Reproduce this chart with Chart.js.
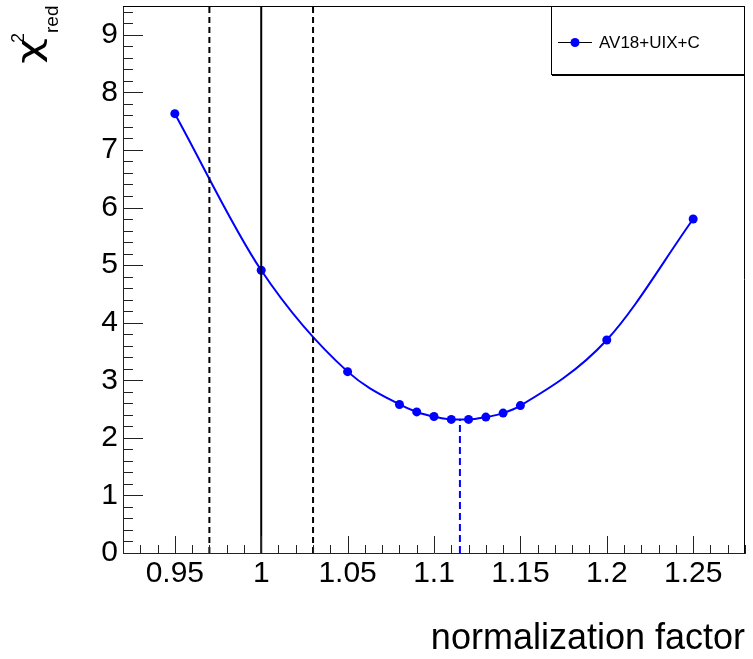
<!DOCTYPE html>
<html>
<head>
<meta charset="utf-8">
<script src="https://cdn.jsdelivr.net/npm/chart.js@4.4.0/dist/chart.umd.min.js"></script>
<style>
  body { margin: 0; background: #fff; }
  #wrap { width: 753px; height: 659px; position: relative; }
</style>
</head>
<body>
<div id="wrap"><canvas id="chi2Chart"></canvas></div>
<script>
// values
const normFactor = [0.95, 1.00, 1.05, 1.08, 1.09, 1.10, 1.11, 1.12, 1.13, 1.14, 1.15, 1.20, 1.25];
const chi2Red = [7.63, 4.91, 3.15, 2.58, 2.45, 2.37, 2.32, 2.32, 2.36, 2.43, 2.56, 3.70, 5.80];
const xTickLabels = [0.95, 1, 1.05, 1.1, 1.15, 1.2, 1.25];
const yTickLabels = [0, 1, 2, 3, 4, 5, 6, 7, 8, 9];
const xRange = [0.92, 1.28];
const yRange = [0, 9.5];
const expNorm = 1.0;
const expNormBand = [0.97, 1.03];
const bestNorm = 1.115;
const bestChi2 = 2.32;
const seriesName = 'AV18+UIX+C';

const FONT = "'Liberation Sans', Arial, Helvetica, sans-serif";
const BLUE = '#0000ff';

function vline(xv, y0, y1, color, width, dash) {
  return {
    type: 'line',
    data: [{ x: xv, y: y0 }, { x: xv, y: y1 }],
    borderColor: color,
    borderWidth: width,
    borderDash: dash,
    pointRadius: 0,
    tension: 0
  };
}

// ROOT-like frame, inward ticks, y title with sub/superscript, legend box
const rootFrame = {
  id: 'rootFrame',
  afterDraw(chart) {
    const { ctx, chartArea: a, scales: { x, y } } = chart;
    ctx.save();
    ctx.strokeStyle = '#000';
    ctx.lineWidth = 1;
    ctx.beginPath();
    ctx.moveTo(a.left, a.top + 0.5); ctx.lineTo(a.right, a.top + 0.5);
    ctx.moveTo(a.right - 0.5, a.top); ctx.lineTo(a.right - 0.5, a.bottom);
    ctx.stroke();

    ctx.strokeStyle = '#222';
    ctx.beginPath();
    for (let i = Math.ceil(xRange[0] * 100); i <= Math.floor(xRange[1] * 100); i++) {
      const px = Math.round(x.getPixelForValue(i / 100)) + 0.5;
      const len = i % 5 === 0 ? 17 : 8;
      ctx.moveTo(px, a.bottom); ctx.lineTo(px, a.bottom - len);
    }
    for (let i = 0; i <= Math.floor(yRange[1] * 5); i++) {
      const py = Math.round(y.getPixelForValue(i / 5)) + 0.5;
      const len = i % 5 === 0 ? 20 : 10;
      ctx.moveTo(a.left, py); ctx.lineTo(a.left + len, py);
    }
    ctx.stroke();

    // y title: chi^2_red
    ctx.fillStyle = '#000';
    ctx.translate(40, 63);
    ctx.rotate(-Math.PI / 2);
    ctx.textBaseline = 'alphabetic';
    ctx.textAlign = 'left';
    ctx.save();
    ctx.scale(1.4, 1);
    ctx.font = "32px 'DejaVu Sans', sans-serif";
    ctx.fillText('χ', -0.5, 0);
    ctx.restore();
    ctx.font = '18px ' + FONT;
    ctx.fillText('2', 20, -16);
    ctx.font = '19px ' + FONT;
    ctx.fillText('red', 30, 18);
    ctx.setTransform(1, 0, 0, 1, 0, 0);

    // legend
    const lx = a.right - 194, ly = a.top, lw = 194, lh = 68;
    ctx.fillStyle = '#fff';
    ctx.fillRect(lx, ly, lw, lh);
    ctx.strokeStyle = '#000';
    ctx.lineWidth = 1;
    ctx.strokeRect(lx + 0.5, ly + 0.5, lw - 1, lh);
    ctx.fillStyle = '#000';
    ctx.fillRect(lx + 1, ly + lh, lw - 1, 2);
    const cy = ly + 36;
    ctx.beginPath();
    ctx.moveTo(lx + 7, cy + 0.5); ctx.lineTo(lx + 41, cy + 0.5);
    ctx.stroke();
    ctx.fillStyle = BLUE;
    ctx.beginPath();
    ctx.arc(lx + 24, cy + 0.5, 4.5, 0, Math.PI * 2);
    ctx.fill();
    ctx.fillStyle = '#000';
    ctx.font = '17px ' + FONT;
    ctx.textBaseline = 'middle';
    ctx.fillText(seriesName, lx + 48, cy + 1);
    ctx.restore();
  }
};

const ctx = document.getElementById('chi2Chart').getContext('2d');

const chi2Chart = new Chart(ctx, {
  type: 'line',
  data: {
    datasets: [
      vline(expNormBand[0], yRange[0], yRange[1], '#000', 2, [6, 4]),
      vline(expNormBand[1], yRange[0], yRange[1], '#000', 2, [6, 4]),
      vline(expNorm, yRange[0], yRange[1], '#000', 2, []),
      vline(bestNorm, yRange[0], bestChi2, BLUE, 2, [7, 4]),
      {
        label: seriesName,
        data: normFactor.map((v, i) => ({ x: v, y: chi2Red[i] })),
        borderColor: BLUE,
        backgroundColor: BLUE,
        borderWidth: 2,
        cubicInterpolationMode: 'monotone',
        pointRadius: 4.5,
        pointBorderWidth: 0,
        pointBackgroundColor: BLUE
      }
    ]
  },
  options: {
    responsive: true,
    maintainAspectRatio: false,
    animation: false,
    layout: { padding: { left: 0, right: 8, top: 6, bottom: 0 } },
    plugins: {
      legend: { display: false },
      tooltip: { enabled: false }
    },
    scales: {
      x: {
        type: 'linear',
        min: xRange[0],
        max: xRange[1],
        afterBuildTicks: s => { s.ticks = xTickLabels.map(v => ({ value: v })); },
        afterFit: s => { s.height = 106; s.paddingLeft = 0; s.paddingRight = 0; },
        grid: { display: false, drawTicks: false },
        border: { display: true, color: '#222', width: 1 },
        ticks: {
          padding: 3,
          color: '#000',
          font: { family: FONT, size: 30 },
          callback: v => String(+v.toFixed(2))
        },
        title: {
          display: true,
          text: 'normalization factor',
          align: 'end',
          color: '#000',
          font: { family: FONT, size: 36, lineHeight: 1 },
          padding: { top: 0, bottom: 2 }
        }
      },
      y: {
        type: 'linear',
        min: yRange[0],
        max: yRange[1],
        afterBuildTicks: s => { s.ticks = yTickLabels.map(v => ({ value: v })); },
        afterFit: s => { s.width = 123; s.paddingTop = 0; s.paddingBottom = 0; },
        grid: { display: false, drawTicks: false },
        border: { display: true, color: '#222', width: 1 },
        ticks: {
          padding: 5,
          color: '#000',
          font: { family: FONT, size: 30 },
          callback: v => String(v)
        }
      }
    }
  },
  plugins: [rootFrame]
});
</script>
</body>
</html>
